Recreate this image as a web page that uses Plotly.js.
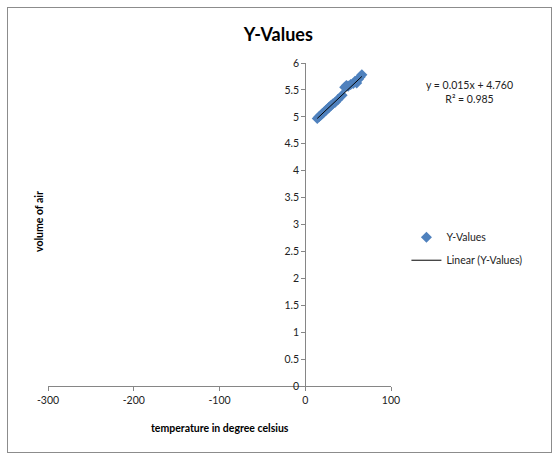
<!DOCTYPE html>
<html>
<head>
<meta charset="utf-8">
<script src="https://cdn.plot.ly/plotly-3.0.1.min.js"></script>
<style>
  html, body { margin: 0; padding: 0; background: #fff; }
  #wrap { position: relative; width: 560px; height: 460px; }
  #chart { width: 560px; height: 460px; }
  #frame { position: absolute; left: 7px; top: 7px; width: 543px; height: 444px;
           border: 1px solid #8c8c8c; pointer-events: none; }
</style>
</head>
<body>
<div id="wrap">
  <div id="chart"></div>
  <div id="frame"></div>
</div>
<script>
// Temperature (°C) and measured volume of air
const temperature = [14, 16, 18, 20, 22, 24, 26, 28, 30, 32, 35, 38, 43, 46, 48, 50, 53, 56, 58, 60, 62, 64, 66];
const volume      = [4.97, 5.00, 5.03, 5.06, 5.09, 5.12, 5.15, 5.18, 5.21, 5.24, 5.27, 5.32, 5.40,
                     5.55, 5.58, 5.57, 5.60, 5.62, 5.66, 5.63, 5.70, 5.74, 5.78];

// Linear trend coefficients as stated on the chart
const trendSlope = 0.015;
const trendIntercept = 4.760;
const trendR2 = 0.985;

const xTickVals = [-300, -200, -100, 0, 100];
const xTickText = ["-300", "-200", "-100", "0", "100"];

const xMin = Math.min(...temperature);
const xMax = Math.max(...temperature);
const trendX = [xMin, xMax];
const trendY = trendX.map(x => trendSlope * x + trendIntercept);

const FONT = "Lato, 'Liberation Sans', sans-serif";

const traces = [
  {
    x: temperature, y: volume, type: "scatter", mode: "markers", name: "Y-Values",
    legendgroup: "pts",
    marker: { symbol: "diamond", size: 8.5, color: "#4F81BD", line: { width: 0 } }
  },
  {
    x: trendX, y: trendY, type: "scatter", mode: "lines", name: "Linear (Y-Values)",
    legendgroup: "fit",
    line: { color: "#000", width: 1 }
  }
];

const layout = {
  width: 560, height: 460,
  margin: { l: 48, r: 169, t: 63, b: 74 },
  paper_bgcolor: "#fff", plot_bgcolor: "#fff",
  font: { family: FONT, size: 10, color: "#222" },
  title: {
    text: "<b>Y-Values</b>", xref: "container", x: 0.497, y: 0.924, yanchor: "middle",
    font: { family: FONT, size: 18, color: "#000" }
  },
  xaxis: {
    range: [-300, 100], tickvals: xTickVals, ticktext: xTickText,
    showgrid: false, zeroline: false, showline: true, linecolor: "#868686", linewidth: 1,
    ticks: "outside", ticklen: 4, tickcolor: "#868686",
    tickfont: { family: FONT, size: 10.5, color: "#222" }
  },
  yaxis: {
    range: [0, 6], dtick: 0.5, anchor: "free", position: 0.75,
    showgrid: false, zeroline: false, showline: true, linecolor: "#868686", linewidth: 1,
    ticks: "outside", ticklen: 4, tickcolor: "#868686",
    tickfont: { family: FONT, size: 10.5, color: "#222" }
  },
  showlegend: true,
  legend: {
    x: 1.045, y: 0.425, xanchor: "left", yanchor: "middle",
    traceorder: "grouped", tracegroupgap: 4,
    font: { family: FONT, size: 10.5, color: "#222" },
    bgcolor: "rgba(0,0,0,0)"
  },
  annotations: [
    {
      text: "<b>temperature in degree celsius</b>", xref: "paper", yref: "paper",
      x: 0.5, y: -0.13, xanchor: "center", yanchor: "middle", showarrow: false,
      font: { family: FONT, size: 10.5, color: "#000" }
    },
    {
      text: "<b>volume of air</b>", xref: "paper", yref: "paper",
      x: -0.026, y: 0.508, xanchor: "center", yanchor: "middle", textangle: -90, showarrow: false,
      font: { family: FONT, size: 10.5, color: "#000" }
    },
    {
      text: "y = " + trendSlope.toFixed(3) + "x + " + trendIntercept.toFixed(3) +
            "<br>R² = " + trendR2.toFixed(3),
      xref: "paper", yref: "paper", x: 1.23, y: 0.91, xanchor: "center", yanchor: "middle",
      align: "center", showarrow: false,
      font: { family: FONT, size: 10.5, color: "#222" }
    }
  ]
};

Plotly.newPlot("chart", traces, layout, { displayModeBar: false, staticPlot: true });
</script>
</body>
</html>
